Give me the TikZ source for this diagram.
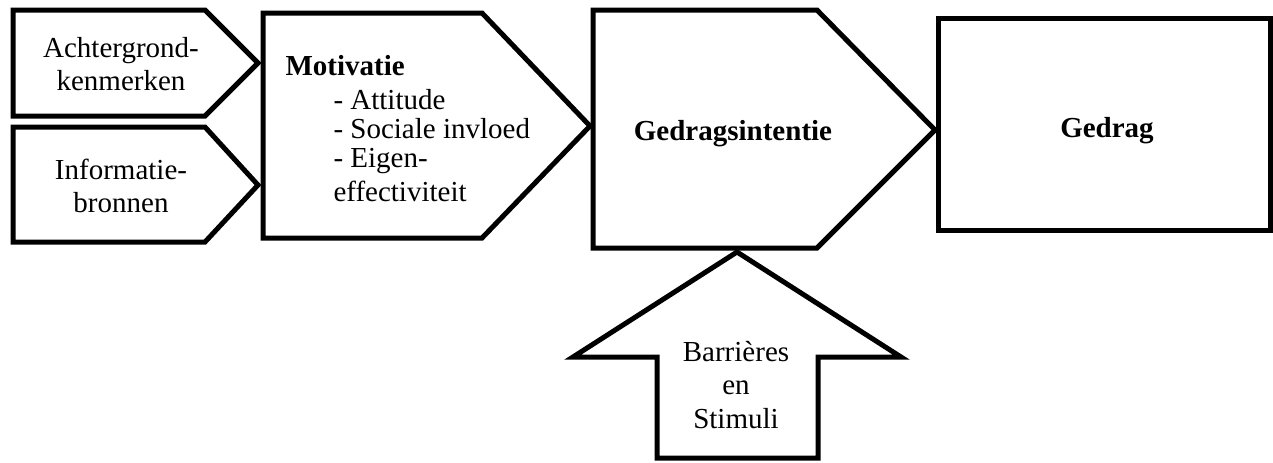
\documentclass[tikz,border=0pt]{standalone}
\usepackage{fontspec}
\setmainfont{Liberation Serif}

\begin{document}
\begin{tikzpicture}[x=0.4pt,y=-0.4pt,line width=2pt,
    txt/.style={font=\fontsize{11.6}{13.4}\selectfont,align=center,inner sep=0pt},
    lijst/.style={font=\fontsize{11.6}{11.6}\selectfont,align=left,inner sep=0pt}]
    \useasboundingbox (0,0) rectangle (1273,462);

    \draw (13,10) -- (205,10) -- (258,63) -- (205,116) -- (13,116) -- cycle;
    \draw (13,127) -- (205,127) -- (258,185) -- (205,242) -- (13,242) -- cycle;
    \draw (263,13) -- (482,13) -- (590,126) -- (482,238) -- (263,238) -- cycle;
    \draw (593,10) -- (817,10) -- (935,130) -- (817,248) -- (593,248) -- cycle;
    \draw (938,18) rectangle (1270,230);
    \draw (737,252) -- (901,357) -- (818,357) -- (818,458) -- (657,458) -- (657,357) -- (573,357) -- cycle;

    \node[txt] (achter) at (121,64) {Achtergrond-\\kenmerken};
    \node[txt] (info) at (121,186) {Informatie-\\bronnen};
    \node[txt,anchor=base west,font=\fontsize{11.6}{13.4}\selectfont\bfseries] (motiv) at (283,75) {Motivatie};
    \node[lijst,anchor=north west] (factoren) at (331,87) {- Attitude\\- Sociale invloed\\- Eigen-\\[1.8pt]effectiviteit};
    \node[txt,anchor=base,font=\fontsize{11.6}{13.4}\selectfont\bfseries] (intentie) at (733,140) {Gedragsintentie};
    \node[txt,anchor=base,font=\fontsize{11.6}{13.4}\selectfont\bfseries] (gedrag) at (1107,137) {Gedrag};
    \node[txt] (barr) at (736,385) {Barrières\\en\\Stimuli};
  \end{tikzpicture}
\end{document}
